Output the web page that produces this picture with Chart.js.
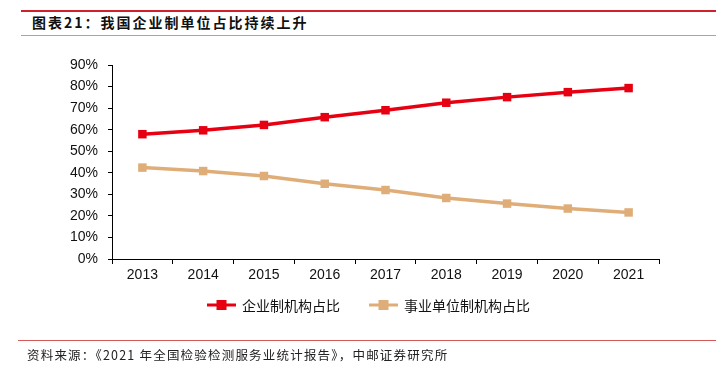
<!DOCTYPE html>
<html>
<head>
<meta charset="utf-8">
<script src="https://cdn.jsdelivr.net/npm/chart.js@4/dist/chart.umd.min.js"></script>
<style>
  html, body { margin: 0; padding: 0; background: #fff; }
  #wrap { position: relative; width: 724px; height: 368px; overflow: hidden; }
  #c { position: absolute; left: 0; top: 0; }
  .line { position: absolute; }
  #title { position: absolute; left: 32px; top: 13px; font-family: "Noto Sans CJK SC", sans-serif; font-weight: bold; font-size: 14px; letter-spacing: 2px; color: #111; line-height: 18px; white-space: nowrap; }
  #foot { position: absolute; left: 27px; top: 346px; font-family: "Noto Sans CJK SC", sans-serif; font-size: 12.5px; color: #222; line-height: 18px; white-space: nowrap; letter-spacing: 1.2px; }
</style>
</head>
<body>
<div id="wrap">
  <div class="line" style="left:21px; top:10px; width:695px; height:2px; background:#D0202A;"></div>
  <div id="title">图表21：我国企业制单位占比持续上升</div>
  <div class="line" style="left:21px; top:35px; width:695px; height:1px; background:#E48A8A;"></div>
  <canvas id="c" width="724" height="368"></canvas>
  <div class="line" style="left:18px; top:340px; width:698px; height:1px; background:#D45A5A;"></div>
  <div id="foot">资料来源：《2021 年全国检验检测服务业统计报告》，中邮证券研究所</div>
</div>
<script>
const years = ["2013","2014","2015","2016","2017","2018","2019","2020","2021"];
const enterpriseShare = [57.9, 59.7, 62.2, 65.8, 69.0, 72.5, 75.1, 77.4, 79.3];
const institutionShare = [42.4, 40.8, 38.5, 34.9, 32.0, 28.3, 25.7, 23.4, 21.6];
const seriesNames = ["企业制机构占比", "事业单位制机构占比"];
const yTicks = [0, 10, 20, 30, 40, 50, 60, 70, 80, 90];

const RED = "#E60012";
const TAN = "#DFAE78";

const legendPlugin = {
  id: "customLegend",
  afterDraw(chart) {
    const ctx = chart.ctx;
    const items = [
      { x: 207, ds: chart.data.datasets[0] },
      { x: 369, ds: chart.data.datasets[1] }
    ];
    const y = 305;
    ctx.save();
    items.forEach(it => {
      ctx.strokeStyle = it.ds.borderColor;
      ctx.lineWidth = 3;
      ctx.beginPath();
      ctx.moveTo(it.x, y);
      ctx.lineTo(it.x + 29, y);
      ctx.stroke();
      ctx.fillStyle = it.ds.borderColor;
      ctx.fillRect(it.x + 14.5 - 5, y - 5, 10, 10);
      ctx.fillStyle = "#111";
      ctx.font = '14px "Noto Sans CJK SC", sans-serif';
      ctx.textBaseline = "middle";
      ctx.textAlign = "left";
      ctx.fillText(it.ds.label, it.x + 35, y + 1);
    });
    ctx.restore();
  }
};

new Chart(document.getElementById("c"), {
  type: "line",
  data: {
    labels: years,
    datasets: [
      { label: seriesNames[0], data: enterpriseShare, borderColor: RED, backgroundColor: RED,
        borderWidth: 3.5, pointStyle: "rect", pointRadius: 6, pointBorderWidth: 0, tension: 0 },
      { label: seriesNames[1], data: institutionShare, borderColor: TAN, backgroundColor: TAN,
        borderWidth: 3.5, pointStyle: "rect", pointRadius: 6, pointBorderWidth: 0, tension: 0 }
    ]
  },
  options: {
    responsive: false,
    animation: false,
    devicePixelRatio: 1,
    layout: { padding: { top: 65, bottom: 79, left: 0, right: 65 } },
    plugins: { legend: { display: false }, tooltip: { enabled: false } },
    scales: {
      x: {
        offset: true,
        grid: { display: true, drawOnChartArea: false, drawTicks: true, tickLength: 5, color: "#000", offset: true },
        border: { display: true, color: "#000", width: 1 },
        ticks: { color: "#111", font: { family: "Liberation Sans", size: 14 }, padding: 3, maxRotation: 0 },
        afterFit(s) { s.height = 30; }
      },
      y: {
        min: 0, max: 90,
        afterBuildTicks(s) { s.ticks = yTicks.map(v => ({ value: v })); },
        grid: { display: true, drawOnChartArea: false, drawTicks: true, tickLength: 4, color: "#000" },
        border: { display: true, color: "#000", width: 1 },
        ticks: { color: "#111", font: { family: "Liberation Sans", size: 14 }, padding: 10,
                 callback: v => v + "%" },
        afterFit(s) { s.width = 112; }
      }
    }
  },
  plugins: [legendPlugin]
});
</script>
</body>
</html>
